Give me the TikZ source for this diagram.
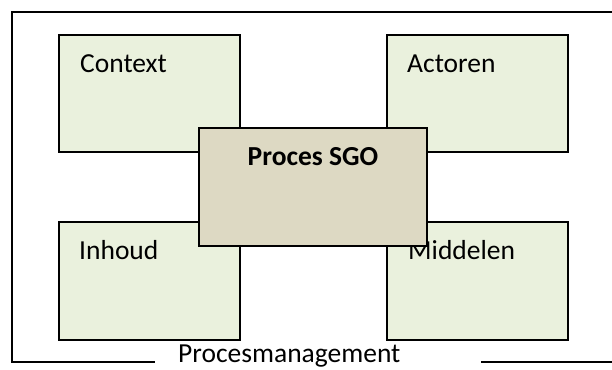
\documentclass[tikz,border=0pt]{standalone}
\usepackage{fontspec}
\setmainfont{Carlito}
\definecolor{boxgreen}{HTML}{EAF1DD}
\definecolor{boxtan}{HTML}{DDD9C3}
\tikzset{
  quad/.style={draw=black, line width=1.6pt, fill=boxgreen, rectangle, inner sep=0pt},
  core/.style={draw=black, line width=1.6pt, fill=boxtan, rectangle, inner sep=0pt},
  label/.style={anchor=base west, inner sep=0pt, font=\fontsize{27.5}{32}\selectfont},
  frame/.style={line width=1.4pt}
}
\begin{document}
\begin{tikzpicture}[x=1pt, y=-1pt]
  \useasboundingbox (0,0) rectangle (612,369);

  % outer frame, open on the right and around the caption
  \coordinate (tr) at (612,12);
  \coordinate (tl) at (12,12);
  \coordinate (bl) at (12,362);
  \coordinate (gapL) at (155,362);
  \coordinate (gapR) at (481,362);
  \coordinate (br) at (612,362);
  \draw[frame] (tr) -- (tl) -- (bl) -- (gapL);
  \draw[frame] (gapR) -- (br);
  \node[label] (pm) at (178,362) {Procesmanagement};

  % four corner boxes
  \node[quad, minimum width=181pt, minimum height=117pt] (ctx) at (149.5,93.5) {};
  \node[quad, minimum width=181pt, minimum height=117pt] (act) at (477.5,93.5) {};
  \node[quad, minimum width=181pt, minimum height=118pt] (inh) at (149.5,281) {};
  \node[quad, minimum width=181pt, minimum height=118pt] (mid) at (477.5,281) {};

  \node[label] (ctxt) at (80,72) {Context};
  \node[label] (actt) at (407,72) {Actoren};
  \node[label] (inht) at (79,259) {Inhoud};
  \node[label] (midt) at (408,259) {Middelen};

  % central process box on top
  \node[core, minimum width=228pt, minimum height=118pt] (sgo) at (313,187) {};
  \node[anchor=base, inner sep=0pt, font=\fontsize{27.5}{32}\selectfont\bfseries] (sgot) at (313,165) {Proces SGO};
\end{tikzpicture}
\end{document}
